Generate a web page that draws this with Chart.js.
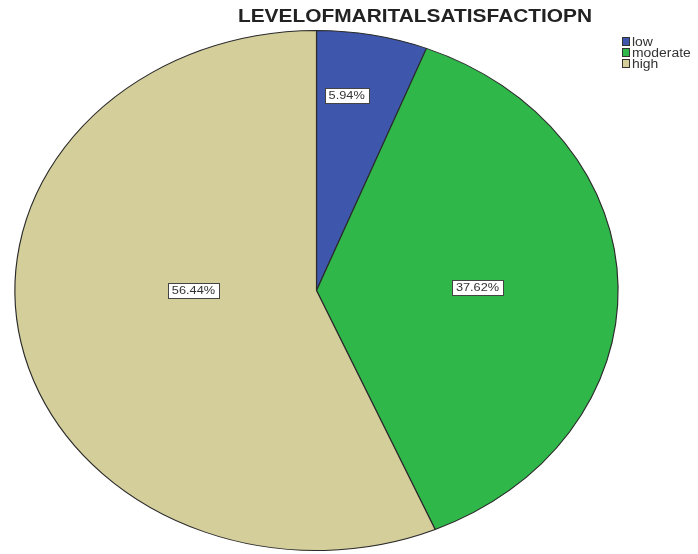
<!DOCTYPE html>
<html>
<head>
<meta charset="utf-8">
<script src="https://cdn.jsdelivr.net/npm/chart.js@4.4.1/dist/chart.umd.min.js"></script>
<style>
html,body{margin:0;padding:0;background:#fff;}
#wrap{width:698px;height:554px;position:relative;}
</style>
</head>
<body>
<div id="wrap"><canvas id="c" width="698" height="554"></canvas></div>
<script>
const chartTitle = 'LEVELOFMARITALSATISFACTIOPN';
const categories = ['low', 'moderate', 'high'];
const counts = [6, 38, 57];
const colors = ['#3e56ab', '#2fb74a', '#d4ce9a'];
// label placement inside each slice: fraction along the slice angle, fraction of radius
const labelAlong = [0.355, 0.498, 0.557];
const labelRadius = [0.757, 0.534, 0.408];

const SX = 1.16; // horizontal stretch of the original picture
const FONT = '"Liberation Sans", Arial, sans-serif';

const stretchPlugin = {
  id: 'stretch',
  beforeDatasetsDraw(chart) {
    const m = chart.getDatasetMeta(0).data[0];
    const ctx = chart.ctx;
    ctx.save();
    ctx.translate(m.x, 0);
    ctx.scale(SX, 1);
    ctx.translate(-m.x, 0);
  },
  afterDatasetsDraw(chart) {
    chart.ctx.restore();
  }
};

function stretchedText(ctx, text, x, y, align) {
  ctx.save();
  ctx.translate(x, y);
  ctx.scale(SX, 1);
  ctx.textAlign = align;
  ctx.fillText(text, 0, 0);
  ctx.restore();
}

const decorPlugin = {
  id: 'decor',
  afterDraw(chart) {
    const ctx = chart.ctx;
    const meta = chart.getDatasetMeta(0);
    const total = counts.reduce((a, b) => a + b, 0);
    // slice labels
    ctx.save();
    ctx.font = '11px ' + FONT;
    ctx.textBaseline = 'middle';
    meta.data.forEach((arc, i) => {
      const p = arc.getProps(['x', 'y', 'startAngle', 'endAngle', 'outerRadius'], true);
      const th = p.startAngle + labelAlong[i] * (p.endAngle - p.startAngle);
      const r = labelRadius[i] * p.outerRadius;
      const x = p.x + Math.cos(th) * r * SX;
      const y = p.y + Math.sin(th) * r;
      const txt = (counts[i] / total * 100).toFixed(2) + '%';
      const w = ctx.measureText(txt).width * SX + 8;
      const h = 15;
      ctx.fillStyle = '#ffffff';
      ctx.fillRect(Math.round(x - w / 2) + 0.5, Math.round(y - h / 2) + 0.5, Math.round(w), h);
      ctx.strokeStyle = '#444';
      ctx.lineWidth = 1;
      ctx.strokeRect(Math.round(x - w / 2) + 0.5, Math.round(y - h / 2) + 0.5, Math.round(w), h);
      ctx.fillStyle = '#333';
      stretchedText(ctx, txt, x, y + 0.5, 'center');
    });
    ctx.restore();
    // title
    ctx.save();
    ctx.font = 'bold 18px ' + FONT;
    ctx.fillStyle = '#222';
    ctx.textBaseline = 'alphabetic';
    stretchedText(ctx, chartTitle, 415, 22, 'center');
    ctx.restore();
    // legend
    ctx.save();
    ctx.font = '12px ' + FONT;
    ctx.textBaseline = 'alphabetic';
    categories.forEach((c, i) => {
      const y = 37 + i * 11;
      ctx.fillStyle = colors[i];
      ctx.fillRect(622, y, 8, 9);
      ctx.strokeStyle = '#333';
      ctx.lineWidth = 1;
      ctx.strokeRect(622.5, y + 0.5, 7, 8);
      ctx.fillStyle = '#333';
      stretchedText(ctx, c, 632, y + 9, 'left');
    });
    ctx.restore();
  }
};

new Chart(document.getElementById('c'), {
  type: 'pie',
  data: {
    labels: categories,
    datasets: [{
      data: counts,
      backgroundColor: colors,
      borderColor: '#2a2a2a',
      borderWidth: 1,
      hoverOffset: 0
    }]
  },
  options: {
    responsive: false,
    animation: false,
    events: [],
    layout: { padding: { top: 30, bottom: 3, left: 56, right: 121 } },
    plugins: {
      legend: { display: false },
      title: { display: false },
      tooltip: { enabled: false }
    }
  },
  plugins: [stretchPlugin, decorPlugin]
});
</script>
</body>
</html>
